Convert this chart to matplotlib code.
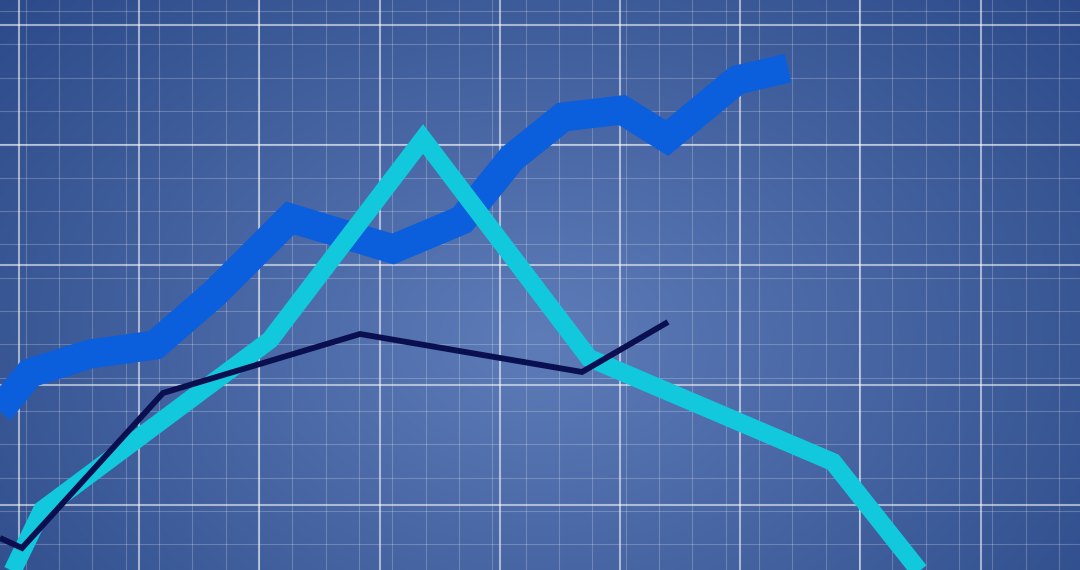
import numpy as np
import matplotlib
matplotlib.use("Agg")
import matplotlib.pyplot as plt
from matplotlib.colors import to_rgb

# Series values (x position, value)
blue_x = [-25, 30, 90, 155, 215, 290, 393, 462, 512, 563, 622, 667, 737, 788]
blue_y = [130, 197, 216, 225, 277, 352, 321, 350, 412, 453, 460, 432, 490, 502]

cyan_x = [12, 42, 270, 423, 589, 833, 925]
cyan_y = [-2, 60, 230, 431, 212, 108, -8]

navy_x = [0, 22, 163, 360, 582, 668]
navy_y = [32, 22, 177, 236, 198, 248]

W, H = 1080, 570

fig = plt.figure(figsize=(10.8, 5.7), dpi=100)
ax = fig.add_axes([0, 0, 1, 1])
ax.set_xlim(0, W)
ax.set_ylim(0, H)
ax.axis("off")

# Radial background, light in the middle, darker at the edges
c_mid = np.array(to_rgb("#5d7cb8"))
c_edge = np.array(to_rgb("#2c4a89"))
gx, gy = np.meshgrid(np.linspace(0, W, 270), np.linspace(H, 0, 143))
r = np.sqrt(((gx - 540) / 720.0) ** 2 + ((gy - 230) / 520.0) ** 2)
r = np.clip(r, 0, 1)[..., None]
bg = c_mid * (1 - r) + c_edge * r
ax.imshow(bg, extent=(0, W, 0, H), aspect="auto", zorder=0, interpolation="bilinear")

# Minor grid
for xm in np.arange(25.7, W, 33.33):
    ax.axvline(xm, color="white", alpha=0.22, lw=0.8, zorder=1)
for ym in np.arange(11, H, 33.33):
    ax.axhline(H - ym, color="white", alpha=0.22, lw=0.8, zorder=1)

# Major grid
for xM in np.arange(19, W, 120.2):
    ax.axvline(xM, color="white", alpha=0.55, lw=1.5, zorder=1)
for yM in np.arange(25, H, 120):
    ax.axhline(H - yM, color="white", alpha=0.55, lw=1.5, zorder=1)

ax.plot(blue_x, blue_y, color="#0b5edc", lw=21, solid_joinstyle="miter",
        solid_capstyle="butt", zorder=3)
ax.plot(cyan_x, cyan_y, color="#12c8dc", lw=13, solid_joinstyle="miter",
        solid_capstyle="butt", zorder=4)
ax.plot(navy_x, navy_y, color="#0a0f50", lw=4.2, solid_joinstyle="miter",
        solid_capstyle="butt", zorder=5)

fig.savefig("out.png", dpi=100)
